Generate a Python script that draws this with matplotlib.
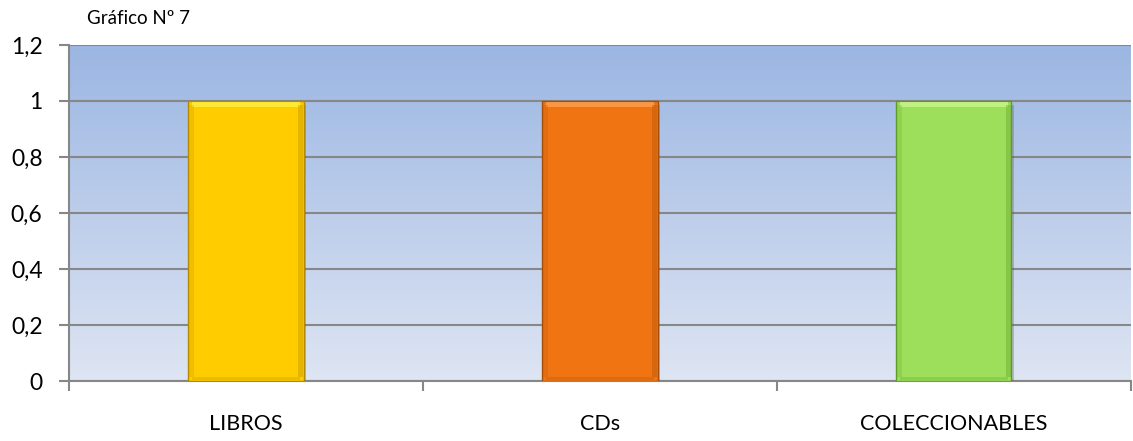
import numpy as np
import matplotlib
matplotlib.use("Agg")
import matplotlib.pyplot as plt
from matplotlib import patheffects
from matplotlib.ticker import FuncFormatter, FixedLocator

plt.rcParams['font.family'] = ['Lato', 'DejaVu Sans']

# data
categories = ['LIBROS', 'CDs', 'COLECCIONABLES']
values = [1, 1, 1]
bar_colors = ['#FFCC00', '#F07512', '#9DDF5A']
edge_colors = ['#B38A00', '#A64E08', '#5E9A2A']
light_colors = ['#FFF040', '#FFA050', '#C8F58A']
yticks = [0, 0.2, 0.4, 0.6, 0.8, 1.0, 1.2]

fig = plt.figure(figsize=(11.33, 4.41), dpi=100)
ax = fig.add_axes([0.0609, 0.136, 0.9373, 0.762])

# gradient background of the plot area
top = np.array([155, 182, 226]) / 255
bot = np.array([222, 229, 243]) / 255
t = np.linspace(0, 1, 256)[:, None]
grad = (top * (1 - t) + bot * t)[:, None, :].repeat(2, axis=1)
ax.imshow(grad, extent=[0, 1, 0, 1], transform=ax.transAxes,
          aspect='auto', zorder=0)

x = np.arange(len(categories))
w = 0.325
shadow = [patheffects.SimplePatchShadow(offset=(2, -3), shadow_rgbFace='#555555', alpha=0.3),
          patheffects.Normal()]
bars = ax.bar(x, values, width=w, color=bar_colors, edgecolor=edge_colors,
              linewidth=1.0, zorder=3, path_effects=shadow)
# bevel highlights: light top strip, darker side strips
for i, v in enumerate(values):
    ax.bar(x[i], 0.018, width=w * 0.94, bottom=v - 0.022, color=light_colors[i],
           linewidth=0, zorder=4, alpha=0.8)
    ax.bar(x[i] - w * 0.475, v * 0.97, width=w * 0.04, bottom=v * 0.015,
           color=edge_colors[i], alpha=0.2, linewidth=0, zorder=4)
    ax.bar(x[i] + w * 0.475, v * 0.97, width=w * 0.04, bottom=v * 0.015,
           color=edge_colors[i], alpha=0.35, linewidth=0, zorder=4)
    ax.bar(x[i], 0.012, width=w * 0.94, bottom=0.004, color=edge_colors[i],
           alpha=0.25, linewidth=0, zorder=4)

ax.set_xlim(-0.5, len(categories) - 0.5)
ax.set_ylim(0, 1.2)
ax.set_yticks(yticks)
ax.yaxis.set_major_formatter(FuncFormatter(lambda v, p: ('%g' % round(v, 1)).replace('.', ',')))
ax.grid(axis='y', color='#878787', linewidth=1.5, zorder=1)
ax.set_axisbelow(True)

ax.set_xticks(x)
ax.set_xticklabels(categories)
ax.xaxis.set_minor_locator(FixedLocator(np.arange(-0.5, len(categories), 1.0)))
ax.tick_params(axis='x', which='major', length=0, pad=24, labelsize=15.5)
ax.tick_params(axis='x', which='minor', length=7, width=1.5, color='#878787')
ax.tick_params(axis='y', length=7, width=1.5, color='#878787', pad=12, labelsize=16.5)

for s in ['top', 'right']:
    ax.spines[s].set_visible(False)
for s in ['left', 'bottom']:
    ax.spines[s].set_color('#878787')
    ax.spines[s].set_linewidth(1.5)

fig.text(0.0768, 0.958, 'Gráfico Nº 7', fontsize=13.5, ha='left', va='center')

fig.savefig('out.png', dpi=100)
